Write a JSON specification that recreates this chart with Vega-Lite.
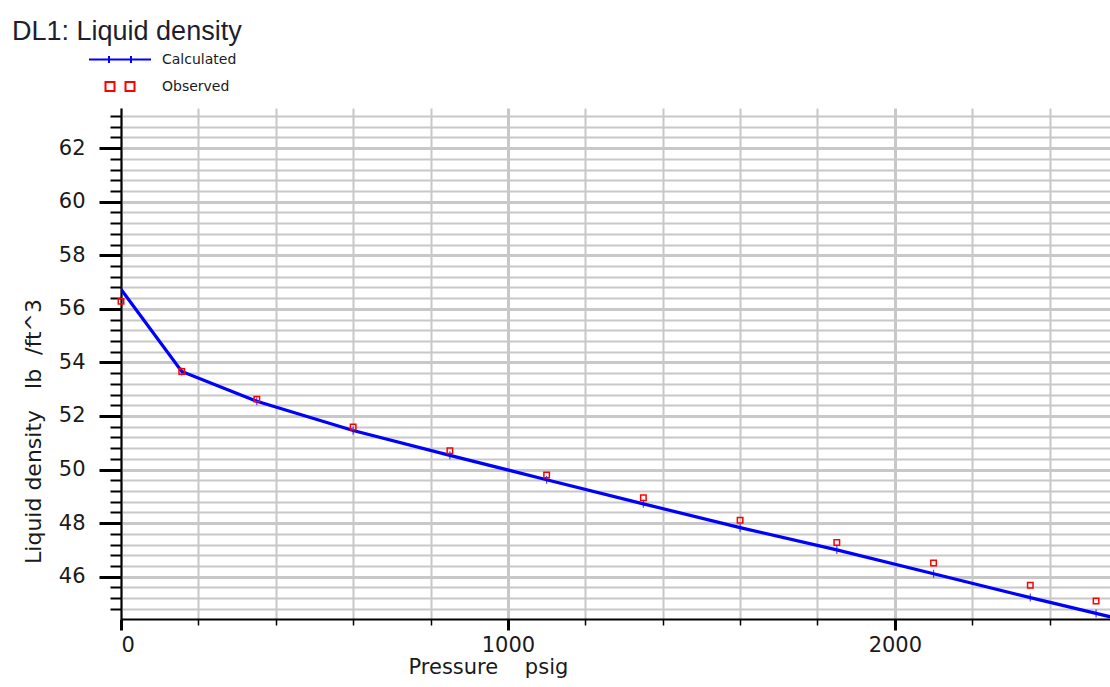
{
  "$schema": "https://vega.github.io/schema/vega-lite/v6.json",
  "width": 989,
  "height": 511,
  "autosize": {"type": "none"},
  "padding": {"left": 121, "top": 108, "right": 0, "bottom": 68},
  "background": "white",
  "config": {"view": {"stroke": null}, "font": "DejaVu Sans"},
  "title": {
    "text": "DL1: Liquid density",
    "anchor": "start",
    "frame": "group",
    "font": "Liberation Sans",
    "fontSize": 27,
    "fontWeight": "normal",
    "color": "#1e1e30",
    "baseline": "alphabetic",
    "offset": 0,
    "dx": -109,
    "dy": 14
  },
  "data": {
    "values": [
      {"series": "Calculated", "pressure": 0, "density": 56.73},
      {"series": "Calculated", "pressure": 157, "density": 53.66},
      {"series": "Calculated", "pressure": 351, "density": 52.55},
      {"series": "Calculated", "pressure": 600, "density": 51.46},
      {"series": "Calculated", "pressure": 850, "density": 50.53},
      {"series": "Calculated", "pressure": 1100, "density": 49.62},
      {"series": "Calculated", "pressure": 1350, "density": 48.72},
      {"series": "Calculated", "pressure": 1600, "density": 47.83},
      {"series": "Calculated", "pressure": 1850, "density": 47.0},
      {"series": "Calculated", "pressure": 2100, "density": 46.11},
      {"series": "Calculated", "pressure": 2350, "density": 45.22},
      {"series": "Calculated", "pressure": 2520, "density": 44.63},
      {"series": "Calculated", "pressure": 2600, "density": 44.35},
      {"series": "Observed", "pressure": 0, "density": 56.28},
      {"series": "Observed", "pressure": 157, "density": 53.66},
      {"series": "Observed", "pressure": 351, "density": 52.63},
      {"series": "Observed", "pressure": 600, "density": 51.59},
      {"series": "Observed", "pressure": 850, "density": 50.7},
      {"series": "Observed", "pressure": 1100, "density": 49.8},
      {"series": "Observed", "pressure": 1350, "density": 48.95},
      {"series": "Observed", "pressure": 1600, "density": 48.11},
      {"series": "Observed", "pressure": 1850, "density": 47.28},
      {"series": "Observed", "pressure": 2100, "density": 46.51},
      {"series": "Observed", "pressure": 2350, "density": 45.68},
      {"series": "Observed", "pressure": 2520, "density": 45.09}
    ]
  },
  "encoding": {
    "x": {
      "field": "pressure",
      "type": "quantitative",
      "scale": {"domain": [0, 2556], "nice": false, "zero": false},
      "axis": {
        "values": [0, 200, 400, 600, 800, 1000, 1200, 1400, 1600, 1800, 2000, 2200, 2400],
        "title": "Pressure\u00a0\u00a0\u00a0\u00a0psig",
        "titleFont": "DejaVu Sans",
        "titleFontSize": 21,
        "titleFontWeight": "normal",
        "titleColor": "#1a1a1a",
        "titleAlign": "left",
        "titleAnchor": null,
        "titleX": 287,
        "titleY": 54,
        "titleBaseline": "alphabetic",
        "labelFont": "DejaVu Sans",
        "labelFontSize": 21,
        "labelColor": "#1a1a1a",
        "labelExpr": "datum.value % 1000 === 0 ? format(datum.value, 'd') : ''",
        "labelPadding": 4,
        "labelFlush": true,
        "labelFlushOffset": 0,
        "labelOverlap": false,
        "labelBound": false,
        "domainColor": "#000000",
        "domainWidth": 2,
        "tickColor": "#000000",
        "tickSize": {"condition": {"test": "datum.value % 1000 === 0", "value": 11}, "value": 6},
        "tickWidth": {"condition": {"test": "datum.value % 1000 === 0", "value": 3}, "value": 1.5},
        "grid": true,
        "gridColor": "#c8c8c8",
        "gridWidth": {"condition": {"test": "datum.value % 1000 === 0", "value": 3}, "value": 2}
      }
    },
    "y": {
      "field": "density",
      "type": "quantitative",
      "scale": {"domain": [44.42, 63.5], "nice": false, "zero": false},
      "axis": {
        "values": [44.8, 45.2, 45.6, 46, 46.4, 46.8, 47.2, 47.6, 48, 48.4, 48.8, 49.2, 49.6, 50, 50.4, 50.8, 51.2, 51.6, 52, 52.4, 52.8, 53.2, 53.6, 54, 54.4, 54.8, 55.2, 55.6, 56, 56.4, 56.8, 57.2, 57.6, 58, 58.4, 58.8, 59.2, 59.6, 60, 60.4, 60.8, 61.2, 61.6, 62, 62.4, 62.8, 63.2],
        "title": "Liquid density\u00a0\u00a0\u00a0lb\u00a0\u00a0/ft^3",
        "titleFont": "DejaVu Sans",
        "titleFontSize": 22,
        "titleFontWeight": "normal",
        "titleColor": "#1a1a1a",
        "titleAngle": -90,
        "titleAlign": "center",
        "titleAnchor": null,
        "titleX": -88,
        "titleY": 323,
        "titleBaseline": "middle",
        "labelFont": "DejaVu Sans",
        "labelFontSize": 21,
        "labelColor": "#1a1a1a",
        "labelExpr": "datum.value % 2 === 0 ? format(datum.value, 'd') : ''",
        "labelPadding": 14,
        "labelOverlap": false,
        "labelBound": false,
        "labelFlush": false,
        "domainColor": "#000000",
        "domainWidth": 2,
        "tickColor": "#000000",
        "tickSize": {"condition": {"test": "datum.value % 2 === 0", "value": 22}, "value": 11},
        "tickWidth": {"condition": {"test": "datum.value % 2 === 0", "value": 3}, "value": 2},
        "grid": true,
        "gridColor": "#c8c8c8",
        "gridWidth": {"condition": {"test": "datum.value % 2 === 0", "value": 3}, "value": 2}
      }
    }
  },
  "layer": [
    {
      "transform": [{"filter": "datum.series === 'Calculated'"}],
      "mark": {"type": "line", "strokeWidth": 3.2, "clip": true},
      "encoding": {
        "color": {
          "field": "series",
          "type": "nominal",
          "scale": {"domain": ["Calculated", "Observed"], "range": ["#0000ff", "#ff0000"]},
          "legend": {
            "title": null,
            "orient": "none",
            "legendX": -8,
            "legendY": -55.5,
            "padding": 0,
            "rowPadding": 10,
            "symbolSize": 100,
            "symbolStrokeWidth": 2,
            "labelFont": "DejaVu Sans",
            "labelFontSize": 14,
            "labelColor": "#1a1a1a",
            "labelOffset": 35,
            "encode": {
              "symbols": {
                "update": {
                  "shape": {"signal": "datum.value === 'Calculated' ? 'M-6.2,0H6.2M-2.2,-0.7V0.7M2.2,-0.7V0.7' : 'M-2.9,-0.9H-1.1V0.9H-2.9ZM1.1,-0.9H2.9V0.9H1.1Z'"},
                  "stroke": {"signal": "datum.value === 'Calculated' ? '#0000ff' : '#ff0000'"},
                  "fill": {"value": "transparent"},
                  "opacity": {"value": 1}
                }
              }
            }
          }
        }
      }
    },
    {
      "transform": [{"filter": "datum.series === 'Calculated'"}],
      "mark": {"type": "tick", "orient": "vertical", "color": "#0000ff", "size": 8, "thickness": 1.2, "clip": true},
      "encoding": {}
    },
    {
      "transform": [{"filter": "datum.series === 'Observed'"}],
      "mark": {"type": "point", "shape": "square", "filled": false, "size": 30, "strokeWidth": 1.5, "opacity": 1},
      "encoding": {
        "color": {"field": "series", "type": "nominal"}
      }
    }
  ]
}
